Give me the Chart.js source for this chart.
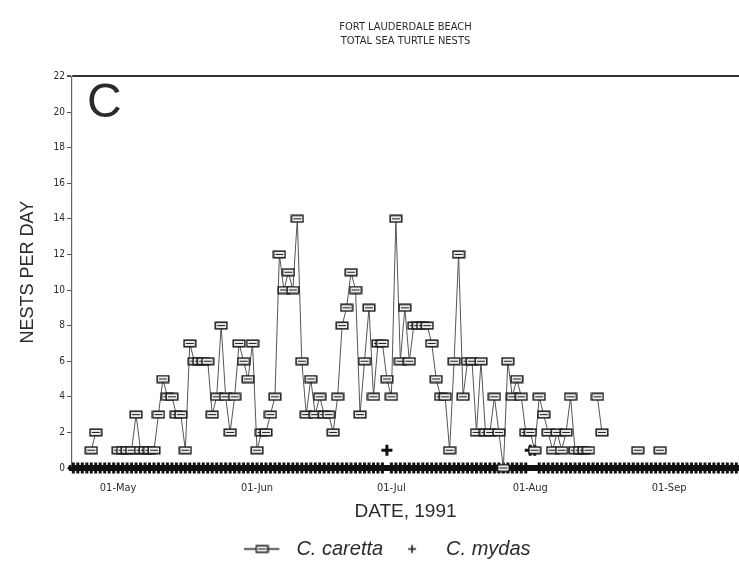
<!DOCTYPE html>
<html>
<head>
<meta charset="utf-8">
<title>Fort Lauderdale Beach - Total Sea Turtle Nests</title>
<script src="https://cdn.jsdelivr.net/npm/chart.js@4.4.0/dist/chart.umd.min.js"></script>
<style>
  html, body { margin: 0; padding: 0; background: #fff; }
  #wrap { position: relative; width: 739px; height: 567px; }
</style>
</head>
<body>
<div id="wrap"><canvas id="nestChart" width="739" height="567"></canvas></div>
<script>
// day numbers count from 01-May (day 0); the first value is day -10 (21-Apr)
const firstDay = -10;

// C. caretta nests per day, one value per day, null = no record
const caretta = [
    null, null, null, null, 1, 2, null, null, null, null,
    1, 1, 1, 1, 3, 1, 1, 1, 1, 3,
    5, 4, 4, 3, 3, 1, 7, 6, 6, 6,
    6, 3, 4, 8, 4, 2, 4, 7, 6, 5,
    7, 1, 2, 2, 3, 4, 12, 10, 11, 10,
    14, 6, 3, 5, 3, 4, 3, 3, 2, 4,
    8, 9, 11, 10, 3, 6, 9, 4, 7, 7,
    5, 4, 14, 6, 9, 6, 8, 8, 8, 8,
    7, 5, 4, 4, 1, 6, 12, 4, 6, 6,
    2, 6, 2, 2, 4, 2, 0, 6, 4, 5,
    4, 2, 2, 1, 4, 3, 2, 1, 2, 1,
    2, 4, 1, 1, 1, 1, null, 4, 2, null,
    null, null, null, null, null, null, 1, null, null, null,
    null, 1, null, null, null, null, null, null, null, null,
    null, null, null, null, null, null, null, null, null
];

// C. mydas nests per day, same days
const mydas = [
    0, 0, 0, 0, 0, 0, 0, 0, 0, 0,
    0, 0, 0, 0, 0, 0, 0, 0, 0, 0,
    0, 0, 0, 0, 0, 0, 0, 0, 0, 0,
    0, 0, 0, 0, 0, 0, 0, 0, 0, 0,
    0, 0, 0, 0, 0, 0, 0, 0, 0, 0,
    0, 0, 0, 0, 0, 0, 0, 0, 0, 0,
    0, 0, 0, 0, 0, 0, 0, 0, 0, 0,
    1, 0, 0, 0, 0, 0, 0, 0, 0, 0,
    0, 0, 0, 0, 0, 0, 0, 0, 0, 0,
    0, 0, 0, 0, 0, 0, 0, 0, 0, 0,
    0, 0, 1, 1, 0, 0, 0, 0, 0, 0,
    0, 0, 0, 0, 0, 0, 0, 0, 0, 0,
    0, 0, 0, 0, 0, 0, 0, 0, 0, 0,
    0, 0, 0, 0, 0, 0, 0, 0, 0, 0,
    0, 0, 0, 0, 0, 0, 0, 0, 0
];

const tickDays = [0, 31, 61, 92, 123];
const tickLabels = ["01-May", "01-Jun", "01-Jul", "01-Aug", "01-Sep"];
const titleLines = ["FORT LAUDERDALE BEACH", "TOTAL SEA TURTLE NESTS"];
const seriesNames = ["C. caretta", "C. mydas"];

const narrow = "'Liberation Sans Narrow', 'DejaVu Sans Condensed', Arial, sans-serif";
const sans = "'Liberation Sans', Arial, sans-serif";
const ink = "#2b2b2b";

function toPoints(values) {
    return values.map(function (v, i) {
        return { x: firstDay + i, y: v };
    });
}

// square marker with a bar through it
function makeBoxMarker() {
    const c = document.createElement("canvas");
    c.width = 14;
    c.height = 9;
    const g = c.getContext("2d");
    g.fillStyle = "#eeeeee";
    g.fillRect(1, 1, 12, 7);
    g.strokeStyle = "#1a1a1a";
    g.lineWidth = 1.5;
    g.strokeRect(1.2, 1.2, 11.6, 6.6);
    g.lineWidth = 1;
    g.beginPath();
    g.moveTo(3, 4.5);
    g.lineTo(11, 4.5);
    g.stroke();
    return c;
}

function makeLegendLine() {
    const c = document.createElement("canvas");
    c.width = 42;
    c.height = 11;
    const g = c.getContext("2d");
    g.strokeStyle = "#1e1e1e";
    g.lineWidth = 1.5;
    g.beginPath();
    g.moveTo(0, 5.5);
    g.lineTo(35, 5.5);
    g.stroke();
    g.drawImage(makeBoxMarker(), 10.5, 1);
    return c;
}

function makeLegendCross() {
    const c = document.createElement("canvas");
    c.width = 42;
    c.height = 11;
    const g = c.getContext("2d");
    g.strokeStyle = "#1e1e1e";
    g.lineWidth = 1.6;
    g.beginPath();
    g.moveTo(14, 5.5);
    g.lineTo(22, 5.5);
    g.moveTo(18, 1.5);
    g.lineTo(18, 9.5);
    g.stroke();
    return c;
}

const boxMarker = makeBoxMarker();
const legendIcons = [makeLegendLine(), makeLegendCross()];

const panelLetter = {
    id: "panelLetter",
    afterDraw(chart) {
        const { ctx, chartArea } = chart;
        ctx.save();
        ctx.font = "48px " + sans;
        ctx.fillStyle = ink;
        ctx.textBaseline = "middle";
        ctx.fillText("C", chartArea.left + 15, chartArea.top + 27);
        ctx.restore();
    }
};

document.addEventListener("DOMContentLoaded", function () {
    const ctx = document.getElementById("nestChart");

    new Chart(ctx, {
        type: "line",
        data: {
            datasets: [{
                label: seriesNames[0],
                data: toPoints(caretta),
                borderColor: "#555",
                borderWidth: 1,
                pointStyle: boxMarker,
                pointRadius: 5,
                spanGaps: false,
                tension: 0,
                clip: false
            }, {
                label: seriesNames[1],
                data: toPoints(mydas),
                showLine: false,
                borderColor: "#111",
                pointStyle: "cross",
                pointRadius: 5.5,
                pointBorderWidth: 3,
                clip: false
            }]
        },
        options: {
            responsive: false,
            animation: false,
            layout: { autoPadding: false, padding: { left: 36, right: 0, top: 0, bottom: -2 } },
            plugins: {
                title: {
                    display: true,
                    text: titleLines,
                    fullSize: false,
                    color: ink,
                    font: { family: narrow, size: 11, weight: "normal", lineHeight: 1.2 },
                    padding: { top: 21, bottom: 29 }
                },
                legend: {
                    position: "bottom",
                    labels: {
                        usePointStyle: true,
                        pointStyleWidth: 42,
                        padding: 11,
                        color: ink,
                        font: { family: sans, size: 20, style: "italic" },
                        generateLabels: function (chart) {
                            return chart.data.datasets.map(function (ds, i) {
                                return {
                                    text: ds.label,
                                    pointStyle: legendIcons[i],
                                    fillStyle: "#000",
                                    strokeStyle: "#000",
                                    lineWidth: 0,
                                    fontColor: ink,
                                    datasetIndex: i,
                                    hidden: false
                                };
                            });
                        }
                    }
                },
                tooltip: { enabled: false }
            },
            scales: {
                x: {
                    type: "linear",
                    min: -10.3,
                    max: 138.6,
                    afterBuildTicks: function (scale) {
                        scale.ticks = tickDays.map(function (d) { return { value: d }; });
                    },
                    afterFit: function (scale) { scale.height = 60; },
                    ticks: {
                        autoSkip: false,
                        maxRotation: 0,
                        padding: 6,
                        color: ink,
                        font: { family: narrow, size: 11 },
                        callback: function (value, index) { return tickLabels[index]; }
                    },
                    grid: { display: false },
                    border: { display: true, color: "#111", width: 6 },
                    title: {
                        display: true,
                        text: "DATE, 1991",
                        color: ink,
                        font: { family: sans, size: 19 },
                        padding: { top: 0, bottom: 5 }
                    }
                },
                y: {
                    min: 0,
                    max: 22,
                    afterFit: function (scale) { scale.width = 36; },
                    ticks: {
                        stepSize: 2,
                        padding: 2,
                        color: ink,
                        font: { family: narrow, size: 10 }
                    },
                    grid: {
                        drawOnChartArea: true,
                        tickLength: 5,
                        tickColor: "#555",
                        color: function (c) { return c.tick && c.tick.value === 22 ? "#333" : "rgba(0,0,0,0)"; },
                        lineWidth: function (c) { return c.tick && c.tick.value === 22 ? 2 : 1; }
                    },
                    border: { display: true, color: "#666", width: 1.2 },
                    title: {
                        display: true,
                        text: "NESTS PER DAY",
                        color: ink,
                        font: { family: sans, size: 18 },
                        padding: { top: -19, bottom: 0 }
                    }
                }
            }
        },
        plugins: [panelLetter]
    });
});
</script>
</body>
</html>
